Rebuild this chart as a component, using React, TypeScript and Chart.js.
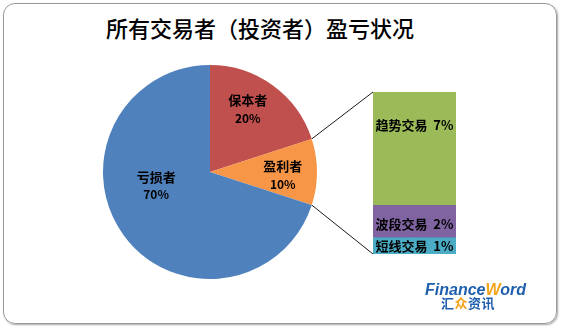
import React, { useEffect, useRef } from "react";
import { Chart, registerables } from "chart.js";
Chart.register(...registerables);

const TITLE = "所有交易者（投资者）盈亏状况";
const pieLabels = ["保本者", "盈利者", "亏损者"];
const pieValues = [20, 10, 70];
const pieColors = ["#C0504D", "#F79646", "#4F81BD"];
const barLabels = ["短线交易", "波段交易", "趋势交易"];
const barValues = [1, 2, 7];
const barColors = ["#4BACC6", "#8064A2", "#9BBB59"];
const splitIndex = 1; // pie slice broken out into the bar

// label placement tweaks (style, not data)
const pieLabelOffsets = [[-5, -4], [0, 3.5], [5, -29]];
const barLabelDy = [0, 2, -24];

const PIE = { left: 103, top: 65, size: 214 };
const BAR = { left: 373, top: 92, width: 83, height: 162 };
const LABEL_FONT = 'bold 13px "Noto Sans CJK SC", sans-serif';

export default function App() {
  const pieRef = useRef<HTMLCanvasElement>(null);
  const barRef = useRef<HTMLCanvasElement>(null);
  const lineRef = useRef<HTMLCanvasElement>(null);

  useEffect(() => {
    const pieLabelPlugin = {
      id: "pieLabels",
      afterDatasetsDraw(chart: any) {
        const ctx = chart.ctx;
        const meta = chart.getDatasetMeta(0);
        const total = pieValues.reduce((a, b) => a + b, 0);
        ctx.save();
        ctx.fillStyle = "#000";
        ctx.textAlign = "center";
        ctx.textBaseline = "middle";
        meta.data.forEach((arc: any, i: number) => {
          const mid = (arc.startAngle + arc.endAngle) / 2;
          const r = arc.outerRadius * 0.68;
          const x = arc.x + r * Math.cos(mid) + pieLabelOffsets[i][0];
          const y = arc.y + r * Math.sin(mid) + pieLabelOffsets[i][1];
          ctx.font = LABEL_FONT;
          ctx.fillText(pieLabels[i], x, y - 9);
          ctx.font = 'bold 12px "Noto Sans CJK SC", sans-serif';
          ctx.fillText(Math.round((pieValues[i] / total) * 100) + "%", x, y + 9);
        });
        ctx.restore();
      },
    };

    const barLabelPlugin = {
      id: "barLabels",
      afterDatasetsDraw(chart: any) {
        const ctx = chart.ctx;
        ctx.save();
        ctx.fillStyle = "#000";
        ctx.textAlign = "center";
        ctx.textBaseline = "middle";
        ctx.font = LABEL_FONT;
        chart.data.datasets.forEach((ds: any, i: number) => {
          const el: any = chart.getDatasetMeta(i).data[0];
          const cy = (el.y + el.base) / 2 + barLabelDy[i];
          ctx.fillText(barLabels[i] + "  " + barValues[i] + "%", el.x, cy);
        });
        ctx.restore();
      },
    };

    const pie = new Chart(pieRef.current!, {
      type: "pie",
      data: {
        labels: pieLabels,
        datasets: [{ data: pieValues, backgroundColor: pieColors, borderWidth: 0 }],
      },
      options: {
        animation: false,
        responsive: false,
        maintainAspectRatio: false,
        layout: { padding: 0 },
        plugins: { legend: { display: false }, tooltip: { enabled: false } },
      },
      plugins: [pieLabelPlugin],
    });

    const bar = new Chart(barRef.current!, {
      type: "bar",
      data: {
        labels: [""],
        datasets: barValues.map((v, i) => ({
          label: barLabels[i],
          data: [v],
          backgroundColor: barColors[i],
          borderWidth: 0,
          barPercentage: 1,
          categoryPercentage: 1,
        })),
      },
      options: {
        animation: false,
        responsive: false,
        maintainAspectRatio: false,
        layout: { padding: 0 },
        scales: {
          x: { stacked: true, display: false },
          y: { stacked: true, display: false, min: 0, max: barValues.reduce((a, b) => a + b, 0) },
        },
        plugins: { legend: { display: false }, tooltip: { enabled: false } },
      },
      plugins: [barLabelPlugin],
    });

    // connector lines
    const lc = lineRef.current!;
    const lctx = lc.getContext("2d")!;
    lctx.clearRect(0, 0, lc.width, lc.height);
    const arc: any = pie.getDatasetMeta(0).data[splitIndex];
    const top: any = bar.getDatasetMeta(barValues.length - 1).data[0];
    const bottom: any = bar.getDatasetMeta(0).data[0];
    const p1 = {
      x: PIE.left + arc.x + arc.outerRadius * Math.cos(arc.startAngle),
      y: PIE.top + arc.y + arc.outerRadius * Math.sin(arc.startAngle),
    };
    const p2 = {
      x: PIE.left + arc.x + arc.outerRadius * Math.cos(arc.endAngle),
      y: PIE.top + arc.y + arc.outerRadius * Math.sin(arc.endAngle),
    };
    const b1 = { x: BAR.left + top.x - top.width / 2, y: BAR.top + top.y };
    const b2 = { x: BAR.left + bottom.x - bottom.width / 2, y: BAR.top + bottom.base };
    lctx.strokeStyle = "#000";
    lctx.lineWidth = 0.9;
    lctx.beginPath();
    lctx.moveTo(p1.x, p1.y);
    lctx.lineTo(b1.x, b1.y);
    lctx.moveTo(p2.x, p2.y);
    lctx.lineTo(b2.x, b2.y);
    lctx.stroke();

    return () => {
      pie.destroy();
      bar.destroy();
    };
  }, []);

  return (
    <div style={{ position: "fixed", left: 0, top: 0, width: 562, height: 330, background: "#fff", overflow: "hidden" }}>
      <div
        style={{
          position: "absolute",
          left: 3,
          top: 3,
          width: 552,
          height: 319,
          border: "1px solid #9a9a9a",
          borderRadius: 12,
          boxShadow: "1px 1px 2px rgba(0,0,0,0.35)",
        }}
      />
      <div
        style={{
          position: "absolute",
          left: 0,
          top: 15,
          width: 520,
          textAlign: "center",
          font: '500 22px/24px "Noto Sans CJK SC", sans-serif',
          color: "#000",
        }}
      >
        {TITLE}
      </div>
      <canvas ref={lineRef} width={562} height={330} style={{ position: "absolute", left: 0, top: 0 }} />
      <canvas
        ref={pieRef}
        width={PIE.size}
        height={PIE.size}
        style={{ position: "absolute", left: PIE.left, top: PIE.top, width: PIE.size, height: PIE.size }}
      />
      <canvas
        ref={barRef}
        width={BAR.width}
        height={BAR.height}
        style={{ position: "absolute", left: BAR.left, top: BAR.top, width: BAR.width, height: BAR.height }}
      />
      <div
        style={{
          position: "absolute",
          left: 425,
          top: 281,
          font: 'italic bold 16px "Liberation Sans", Arial, sans-serif',
          color: "#1F5FAD",
          lineHeight: "18px",
          whiteSpace: "nowrap",
        }}
      >
        Finance<span style={{ color: "#F5A31A" }}>W</span>ord
      </div>
      <div
        style={{
          position: "absolute",
          left: 441,
          top: 295,
          font: 'bold 13px/16px "Noto Sans CJK SC", sans-serif',
          color: "#1F5FAD",
          whiteSpace: "nowrap",
          letterSpacing: 0.5,
        }}
      >
        汇<span style={{ color: "#F5A31A" }}>众</span>资讯
      </div>
    </div>
  );
}
